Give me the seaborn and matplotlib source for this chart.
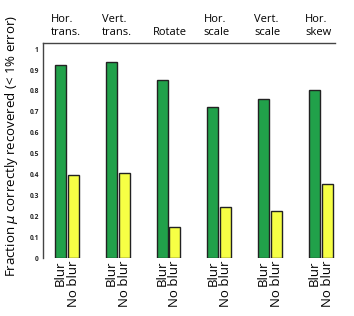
import matplotlib
matplotlib.use("Agg")
import matplotlib.pyplot as plt
import matplotlib.transforms as mtransforms
import numpy as np
import pandas as pd
import seaborn as sns

# data
categories = ["Hor.\ntrans.", "Vert.\ntrans.", "Rotate", "Hor.\nscale", "Vert.\nscale", "Hor.\nskew"]
conditions = ["Blur", "No blur"]
blur_values = [0.923, 0.938, 0.852, 0.722, 0.761, 0.804]
noblur_values = [0.397, 0.407, 0.148, 0.244, 0.225, 0.354]
y_ticks = [0, 0.1, 0.2, 0.3, 0.4, 0.5, 0.6, 0.7, 0.8, 0.9, 1]
y_ticklabels = ["0", "0.1", "0.2", "0.3", "0.4", "0.5", "0.6", "0.7", "0.8", "0.9", "1"]

df = pd.DataFrame({
    "category": categories * 2,
    "condition": [conditions[0]] * len(categories) + [conditions[1]] * len(categories),
    "value": blur_values + noblur_values,
})

sns.set_style("white")
plt.rcParams["font.family"] = ["Open Sans", "DejaVu Sans"]
plt.rcParams["text.color"] = "black"
plt.rcParams["axes.labelcolor"] = "black"
plt.rcParams["xtick.color"] = "black"

fig = plt.figure(figsize=(3.54, 3.16), dpi=100)
ax = fig.add_axes([0.1215, 0.1835, 0.8245, 0.6805])

sns.barplot(
    data=df, x="category", y="value", hue="condition",
    order=categories, hue_order=conditions,
    palette={"Blur": "#21a14a", "No blur": "#f6ff45"},
    saturation=1, width=0.51, gap=0.15, dodge=True,
    edgecolor="#222222", linewidth=1.0, legend=False, ax=ax,
)

ax.set_xlim(-0.472, 5.278)
ax.set_ylim(0, 1.03)

# per-bar labels below axis
centers = sorted(bar.get_x() + bar.get_width() / 2 for bar in ax.patches if bar.get_height() > 0)
labels = [conditions[i % 2] for i in range(len(centers))]
ax.set_xticks(centers)
ax.set_xticklabels(labels, rotation=90, fontsize=9.5, va="top", ha="center")
ax.tick_params(axis="x", length=0, pad=2)

ax.set_yticks(y_ticks)
ax.set_yticklabels(y_ticklabels, fontsize=4.8, fontweight="bold", color="#222222")
ax.tick_params(axis="y", length=0, pad=3)

ax.set_xlabel("")
ax.set_ylabel("Fraction $\\mu$ correctly recovered (< 1% error)", fontsize=9.5)
ax.yaxis.set_label_coords(-0.079, 0.52)

for side in ["bottom", "right"]:
    ax.spines[side].set_visible(False)
for side in ["left", "top"]:
    ax.spines[side].set_color("#444444")
    ax.spines[side].set_linewidth(1.0)

# category titles above the top spine
trans = mtransforms.blended_transform_factory(ax.transData, ax.transAxes)
for i, cat in enumerate(categories):
    ax.text(i - 0.31, 1.025, cat, transform=trans, ha="left", va="bottom",
            fontsize=8, linespacing=1.25)

fig.savefig("out.png", dpi=100)
